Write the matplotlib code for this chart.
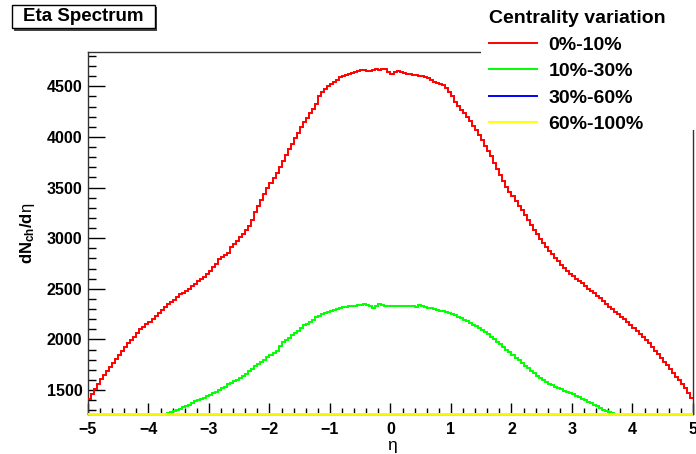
import numpy as np
import matplotlib
matplotlib.use("Agg")
import matplotlib.pyplot as plt
from matplotlib.patches import Rectangle

plt.rcParams['font.family'] = ['Liberation Sans', 'DejaVu Sans']
plt.rcParams['mathtext.fontset'] = 'custom'
plt.rcParams['mathtext.rm'] = 'Liberation Sans'
plt.rcParams['mathtext.it'] = 'Liberation Sans'
plt.rcParams['mathtext.bf'] = 'Liberation Sans:bold'

# 200 bins of width 0.05 between eta = -5 and 5
eta_edges = np.linspace(-5, 5, 201)

# 0%-10%
red = [1415, 1460, 1510, 1555, 1605, 1650, 1685, 1725, 1770, 1810, 1850, 1885, 1925, 1960, 1990, 2020, 2060, 2100, 2120, 2150,
       2175, 2200, 2230, 2265, 2295, 2320, 2345, 2365, 2390, 2420, 2445, 2460, 2475, 2495, 2525, 2550, 2575, 2600, 2620, 2645,
       2680, 2715, 2745, 2790, 2815, 2835, 2850, 2910, 2945, 2975, 3010, 3045, 3085, 3125, 3175, 3260, 3320, 3380, 3440, 3500,
       3545, 3595, 3640, 3700, 3765, 3825, 3880, 3930, 3985, 4040, 4095, 4145, 4190, 4235, 4280, 4330, 4400, 4440, 4475, 4505,
       4520, 4545, 4565, 4590, 4600, 4615, 4622, 4630, 4645, 4648, 4660, 4662, 4655, 4650, 4660, 4668, 4665, 4670, 4668, 4640,
       4622, 4645, 4648, 4640, 4635, 4625, 4625, 4615, 4615, 4605, 4598, 4590, 4580, 4565, 4545, 4535, 4525, 4515, 4480, 4440,
       4400, 4345, 4305, 4265, 4235, 4195, 4155, 4110, 4070, 4020, 3965, 3910, 3860, 3810, 3745, 3680, 3625, 3565, 3510, 3460,
       3415, 3370, 3320, 3280, 3230, 3180, 3130, 3085, 3040, 2995, 2950, 2910, 2870, 2840, 2800, 2770, 2735, 2705, 2675, 2645,
       2625, 2600, 2580, 2555, 2530, 2500, 2475, 2455, 2430, 2405, 2380, 2350, 2320, 2300, 2275, 2250, 2225, 2200, 2170, 2145,
       2115, 2085, 2055, 2025, 1990, 1960, 1925, 1890, 1855, 1815, 1780, 1745, 1705, 1670, 1630, 1595, 1555, 1515, 1470, 1420]

# 10%-30%
green = [1005, 1018, 1026, 1041, 1049, 1063, 1070, 1082, 1094, 1101, 1113, 1120, 1133, 1142, 1150, 1164, 1171, 1183, 1190, 1204,
         1212, 1220, 1231, 1240, 1252, 1262, 1275, 1282, 1290, 1298, 1312, 1328, 1340, 1356, 1368, 1390, 1405, 1413, 1424, 1440,
         1455, 1468, 1482, 1498, 1515, 1530, 1555, 1570, 1590, 1603, 1618, 1638, 1660, 1685, 1710, 1735, 1752, 1778, 1800, 1822,
         1845, 1870, 1890, 1935, 1970, 1990, 2015, 2040, 2065, 2085, 2115, 2140, 2155, 2172, 2195, 2218, 2235, 2250, 2262, 2272,
         2280, 2292, 2303, 2310, 2318, 2320, 2325, 2328, 2333, 2335, 2336, 2345, 2338, 2325, 2310, 2330, 2345, 2340, 2333, 2328,
         2330, 2328, 2332, 2326, 2330, 2326, 2325, 2327, 2324, 2335, 2332, 2318, 2312, 2308, 2302, 2295, 2285, 2278, 2268, 2258,
         2250, 2238, 2225, 2210, 2195, 2178, 2160, 2145, 2128, 2110, 2092, 2070, 2050, 2025, 2000, 1978, 1950, 1925, 1900, 1872,
         1848, 1820, 1795, 1765, 1740, 1715, 1690, 1665, 1640, 1615, 1595, 1578, 1562, 1546, 1532, 1518, 1506, 1494, 1483, 1472,
         1460, 1445, 1430, 1415, 1400, 1385, 1370, 1355, 1340, 1325, 1305, 1292, 1280, 1268, 1255, 1240, 1230, 1218, 1206, 1195,
         1183, 1171, 1162, 1150, 1138, 1127, 1115, 1104, 1093, 1080, 1069, 1058, 1046, 1034, 1022, 1012, 1000, 990, 978, 966]

# 30%-60% and 60%-100% lie below the visible range (coarse bins of 0.5)
coarse_edges = np.linspace(-5, 5, 21)
blue = [690, 760, 820, 870, 920, 960, 1010, 1040, 1050, 1045, 1048, 1040, 1012, 965, 915, 868, 822, 765, 700, 640]
yellow = [160, 180, 200, 222, 240, 262, 280, 298, 308, 310, 309, 306, 296, 282, 262, 242, 220, 198, 178, 158]

labels = ["0%-10%", "10%-30%", "30%-60%", "60%-100%"]
colors = ["#ff0000", "#00ff00", "#0000ff", "#ffff00"]

ymin, ymax = 1263, 4836

fig = plt.figure(figsize=(6.96, 4.54), dpi=100)
ax = fig.add_axes([88/696, 1-414/454, 605/696, (414-52.3)/454])

series = [(red, eta_edges), (green, eta_edges), (blue, coarse_edges), (yellow, coarse_edges)]
for (vals, edges), c, lab in zip(series, colors, labels):
    # like ROOT, bins below the frame are drawn along the bottom edge
    v = np.clip(np.array(vals, dtype=float), ymin, ymax)
    ax.stairs(v, edges, baseline=None, color=c, lw=1.4, label=lab,
              clip_on=(c != "#ffff00"), zorder=3)

ax.set_xlim(-5, 5)
ax.set_ylim(ymin, ymax)
ax.set_xticks(np.arange(-5, 6, 1))
ax.set_xticks(np.arange(-5, 5.01, 0.2), minor=True)
ax.set_yticks(np.arange(1500, 4501, 500))
ax.set_yticks(np.arange(1300, 4801, 100), minor=True)
ax.tick_params(axis='x', which='major', direction='in', length=8, width=1, pad=6, labelsize=11.5)
ax.tick_params(axis='x', which='minor', direction='in', length=4, width=1)
ax.tick_params(axis='y', which='major', direction='in', length=12.5, width=1, pad=4, labelsize=11.5)
ax.tick_params(axis='y', which='minor', direction='in', length=6, width=1)
for t in ax.get_xticklabels() + ax.get_yticklabels():
    t.set_fontweight('bold')
for s in ax.spines.values():
    s.set_linewidth(1)
    s.set_color('#333333')

ax.set_xlabel("η", fontsize=12.5)
ax.xaxis.set_label_coords(0.503, -0.066)
ax.set_ylabel(r"$\mathbf{dN}_{\mathbf{ch}}\mathbf{/d}\eta$", fontsize=12)
ax.yaxis.set_label_coords(-0.085, 0.5)

# title box with shadow
fig.add_artist(Rectangle((14/696, 1-30.5/454), 143/696, 23.3/454, transform=fig.transFigure,
                         facecolor='#444444', edgecolor='none'))
fig.add_artist(Rectangle((12/696, 1-28.3/454), 143/696, 23.3/454, transform=fig.transFigure,
                         facecolor='white', edgecolor='black', lw=1))
fig.text(83.5/696, 1-16.5/454, "Eta Spectrum", ha='center', va='center',
         fontsize=13.5, fontweight='bold')

# legend area (white, no border) over the frame corner
fig.add_artist(Rectangle((481/696, 1-130/454), 215/696, 130/454, transform=fig.transFigure,
                         facecolor='white', edgecolor='none', zorder=4))
h, l = ax.get_legend_handles_labels()
leg = fig.legend(h, l, title="Centrality variation", loc='upper left',
                 bbox_to_anchor=(489/696, 1-10/454), frameon=False, fontsize=14,
                 title_fontproperties={'weight': 'bold', 'size': 14},
                 alignment='left', borderpad=0, borderaxespad=0,
                 handlelength=2.45, handletextpad=0.6, labelspacing=0.46)
leg.set_zorder(5)
for t in leg.get_texts():
    t.set_fontweight('bold')
for ln in leg.legend_handles:
    ln.set_linewidth(1.4)

fig.savefig("out.png", dpi=100)
